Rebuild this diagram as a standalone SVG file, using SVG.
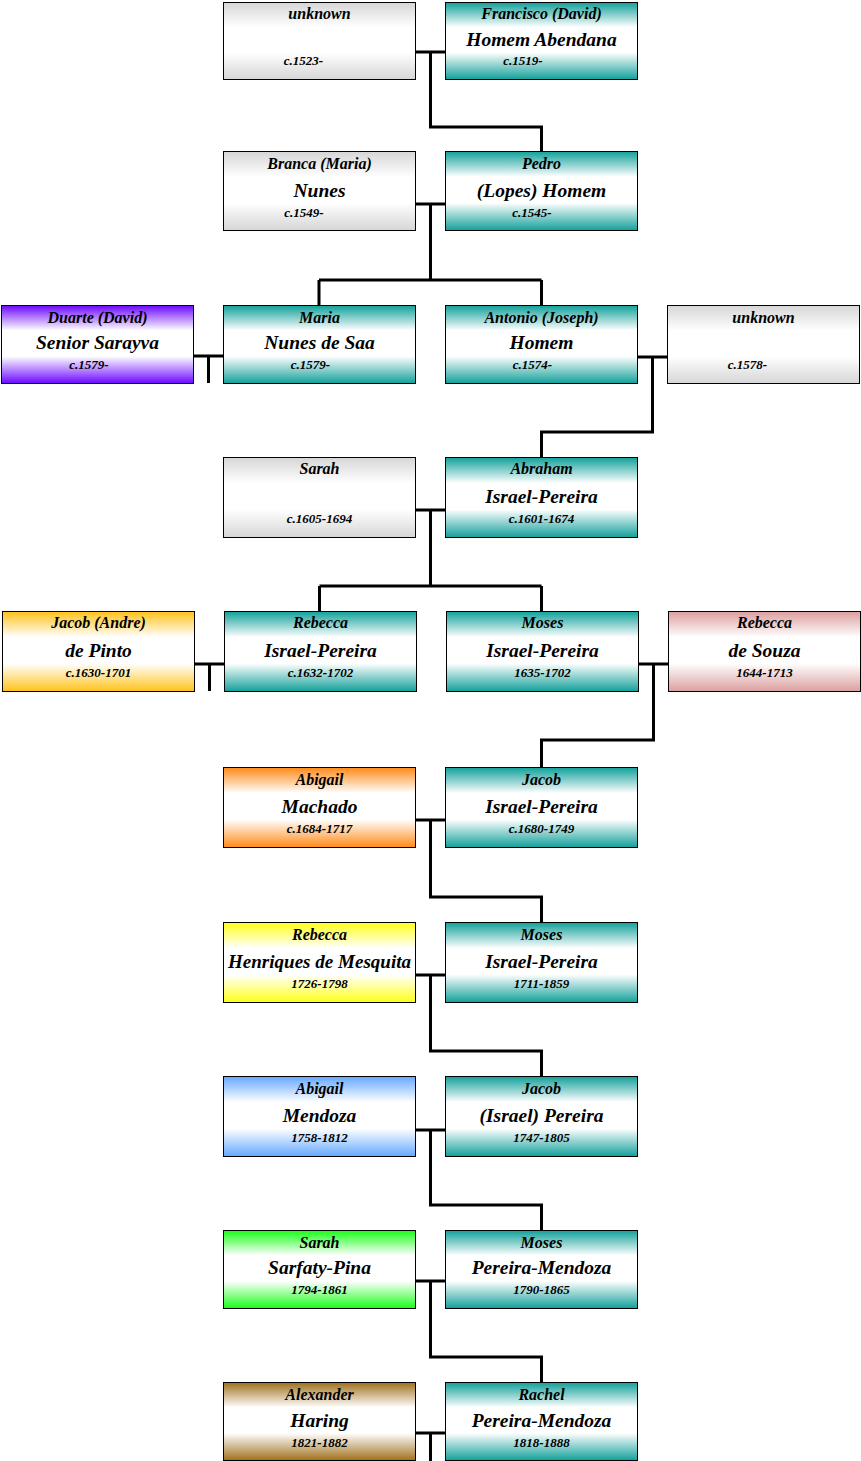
<svg xmlns="http://www.w3.org/2000/svg" width="861" height="1461" viewBox="0 0 861 1461">
<defs>
<linearGradient id="gGray" x1="0" y1="0" x2="0" y2="1"><stop offset="0" stop-color="#d6d6d6"/><stop offset="0.32" stop-color="#fff"/><stop offset="0.65" stop-color="#fff"/><stop offset="1" stop-color="#d6d6d6"/></linearGradient>
<linearGradient id="gTeal" x1="0" y1="0" x2="0" y2="1"><stop offset="0" stop-color="#12a09a"/><stop offset="0.32" stop-color="#fff"/><stop offset="0.65" stop-color="#fff"/><stop offset="1" stop-color="#12a09a"/></linearGradient>
<linearGradient id="gPurple" x1="0" y1="0" x2="0" y2="1"><stop offset="0" stop-color="#6c08ff"/><stop offset="0.32" stop-color="#fff"/><stop offset="0.65" stop-color="#fff"/><stop offset="1" stop-color="#6c08ff"/></linearGradient>
<linearGradient id="gGold" x1="0" y1="0" x2="0" y2="1"><stop offset="0" stop-color="#ffc21a"/><stop offset="0.32" stop-color="#fff"/><stop offset="0.65" stop-color="#fff"/><stop offset="1" stop-color="#ffc21a"/></linearGradient>
<linearGradient id="gPink" x1="0" y1="0" x2="0" y2="1"><stop offset="0" stop-color="#dc9e9e"/><stop offset="0.32" stop-color="#fff"/><stop offset="0.65" stop-color="#fff"/><stop offset="1" stop-color="#dc9e9e"/></linearGradient>
<linearGradient id="gOrange" x1="0" y1="0" x2="0" y2="1"><stop offset="0" stop-color="#ff8a18"/><stop offset="0.32" stop-color="#fff"/><stop offset="0.65" stop-color="#fff"/><stop offset="1" stop-color="#ff8a18"/></linearGradient>
<linearGradient id="gYellow" x1="0" y1="0" x2="0" y2="1"><stop offset="0" stop-color="#ffff18"/><stop offset="0.32" stop-color="#fff"/><stop offset="0.65" stop-color="#fff"/><stop offset="1" stop-color="#ffff18"/></linearGradient>
<linearGradient id="gBlue" x1="0" y1="0" x2="0" y2="1"><stop offset="0" stop-color="#64a8ff"/><stop offset="0.32" stop-color="#fff"/><stop offset="0.65" stop-color="#fff"/><stop offset="1" stop-color="#64a8ff"/></linearGradient>
<linearGradient id="gGreen" x1="0" y1="0" x2="0" y2="1"><stop offset="0" stop-color="#18ff18"/><stop offset="0.32" stop-color="#fff"/><stop offset="0.65" stop-color="#fff"/><stop offset="1" stop-color="#18ff18"/></linearGradient>
<linearGradient id="gBrown" x1="0" y1="0" x2="0" y2="1"><stop offset="0" stop-color="#a0701c"/><stop offset="0.32" stop-color="#fff"/><stop offset="0.65" stop-color="#fff"/><stop offset="1" stop-color="#a0701c"/></linearGradient>
</defs>
<style>
rect.box{stroke:#000;stroke-width:1}
text{font-family:"Liberation Serif","DejaVu Serif",serif;font-weight:bold;font-style:italic;fill:#000;text-anchor:middle}
.t{font-size:16px}
.m{font-size:19.5px}
.d{font-size:13px}
#connectors path{fill:none;stroke:#000;stroke-width:3}
</style>
<g id="connectors">
<path d="M415 52H445M430.5 52V127H541.5V152"/>
<path d="M415 204H445M430.5 204V280M319 280H541.5M319 280V305M541.5 280V305"/>
<path d="M193 356H223M208.5 356V383"/>
<path d="M637 357H667M652.5 357V432H541.5V457"/>
<path d="M415 510H445M430.5 510V586M319.5 586H541.5M319.5 586V611M541.5 586V611"/>
<path d="M194 664H224M209.5 664V691"/>
<path d="M638 664H668M653.5 664V740H541.5V767"/>
<path d="M415 820H445M430.5 820V897H541.5V922"/>
<path d="M415 975H445M430.5 975V1051H541.5V1076"/>
<path d="M415 1130H445M430.5 1130V1205H541.5V1230"/>
<path d="M415 1281H445M430.5 1281V1357H541.5V1382"/>
<path d="M415 1433H445M430.5 1433V1461"/>
</g>
<g id="n_unknown1"><rect class="box" x="223.5" y="2.5" width="192" height="77" fill="url(#gGray)"/><text class="t" x="319.5" y="19">unknown</text><text class="d" x="303.5" y="65">c.1523-</text></g>
<g id="n_francisco"><rect class="box" x="445.5" y="2.5" width="192" height="77" fill="url(#gTeal)"/><text class="t" x="541.5" y="19">Francisco (David)</text><text class="m" x="541.5" y="46">Homem Abendana</text><text class="d" x="523" y="65">c.1519-</text></g>
<g id="n_branca"><rect class="box" x="223.5" y="151.5" width="192" height="79" fill="url(#gGray)"/><text class="t" x="319.5" y="169">Branca (Maria)</text><text class="m" x="319.5" y="197">Nunes</text><text class="d" x="304" y="217">c.1549-</text></g>
<g id="n_pedro"><rect class="box" x="445.5" y="151.5" width="192" height="79" fill="url(#gTeal)"/><text class="t" x="541.5" y="169">Pedro</text><text class="m" x="541.5" y="197">(Lopes) Homem</text><text class="d" x="532" y="217">c.1545-</text></g>
<g id="n_duarte"><rect class="box" x="1.5" y="305.5" width="192" height="78" fill="url(#gPurple)"/><text class="t" x="97.5" y="323">Duarte (David)</text><text class="m" x="97.5" y="349">Senior Sarayva</text><text class="d" x="89" y="369">c.1579-</text></g>
<g id="n_maria"><rect class="box" x="223.5" y="305.5" width="192" height="78" fill="url(#gTeal)"/><text class="t" x="319.5" y="323">Maria</text><text class="m" x="319.5" y="349">Nunes de Saa</text><text class="d" x="310.5" y="369">c.1579-</text></g>
<g id="n_antonio"><rect class="box" x="445.5" y="305.5" width="192" height="78" fill="url(#gTeal)"/><text class="t" x="541.5" y="323">Antonio (Joseph)</text><text class="m" x="541.5" y="349">Homem</text><text class="d" x="532.5" y="369">c.1574-</text></g>
<g id="n_unknown2"><rect class="box" x="667.5" y="305.5" width="192" height="78" fill="url(#gGray)"/><text class="t" x="763.5" y="323">unknown</text><text class="d" x="747.5" y="369">c.1578-</text></g>
<g id="n_sarah1"><rect class="box" x="223.5" y="457.5" width="192" height="80" fill="url(#gGray)"/><text class="t" x="319.5" y="474">Sarah</text><text class="d" x="319.5" y="523">c.1605-1694</text></g>
<g id="n_abraham"><rect class="box" x="445.5" y="457.5" width="192" height="80" fill="url(#gTeal)"/><text class="t" x="541.5" y="474">Abraham</text><text class="m" x="541.5" y="503">Israel-Pereira</text><text class="d" x="541.5" y="523">c.1601-1674</text></g>
<g id="n_jacob_andre"><rect class="box" x="2.5" y="611.5" width="192" height="80" fill="url(#gGold)"/><text class="t" x="98.5" y="628">Jacob (Andre)</text><text class="m" x="98.5" y="657">de Pinto</text><text class="d" x="98.5" y="677">c.1630-1701</text></g>
<g id="n_rebecca_ip"><rect class="box" x="224.5" y="611.5" width="192" height="80" fill="url(#gTeal)"/><text class="t" x="320.5" y="628">Rebecca</text><text class="m" x="320.5" y="657">Israel-Pereira</text><text class="d" x="320.5" y="677">c.1632-1702</text></g>
<g id="n_moses1"><rect class="box" x="446.5" y="611.5" width="192" height="80" fill="url(#gTeal)"/><text class="t" x="542.5" y="628">Moses</text><text class="m" x="542.5" y="657">Israel-Pereira</text><text class="d" x="542.5" y="677">1635-1702</text></g>
<g id="n_rebecca_souza"><rect class="box" x="668.5" y="611.5" width="192" height="80" fill="url(#gPink)"/><text class="t" x="764.5" y="628">Rebecca</text><text class="m" x="764.5" y="657">de Souza</text><text class="d" x="764.5" y="677">1644-1713</text></g>
<g id="n_abigail_machado"><rect class="box" x="223.5" y="767.5" width="192" height="80" fill="url(#gOrange)"/><text class="t" x="319.5" y="785">Abigail</text><text class="m" x="319.5" y="813">Machado</text><text class="d" x="319.5" y="833">c.1684-1717</text></g>
<g id="n_jacob1"><rect class="box" x="445.5" y="767.5" width="192" height="80" fill="url(#gTeal)"/><text class="t" x="541.5" y="785">Jacob</text><text class="m" x="541.5" y="813">Israel-Pereira</text><text class="d" x="541.5" y="833">c.1680-1749</text></g>
<g id="n_rebecca_hm"><rect class="box" x="223.5" y="922.5" width="192" height="80" fill="url(#gYellow)"/><text class="t" x="319.5" y="940">Rebecca</text><text class="m" x="319.5" y="968" textLength="183" lengthAdjust="spacingAndGlyphs">Henriques de Mesquita</text><text class="d" x="319.5" y="988">1726-1798</text></g>
<g id="n_moses2"><rect class="box" x="445.5" y="922.5" width="192" height="80" fill="url(#gTeal)"/><text class="t" x="541.5" y="940">Moses</text><text class="m" x="541.5" y="968">Israel-Pereira</text><text class="d" x="541.5" y="988">1711-1859</text></g>
<g id="n_abigail_mendoza"><rect class="box" x="223.5" y="1076.5" width="192" height="80" fill="url(#gBlue)"/><text class="t" x="319.5" y="1094">Abigail</text><text class="m" x="319.5" y="1122">Mendoza</text><text class="d" x="319.5" y="1142">1758-1812</text></g>
<g id="n_jacob2"><rect class="box" x="445.5" y="1076.5" width="192" height="80" fill="url(#gTeal)"/><text class="t" x="541.5" y="1094">Jacob</text><text class="m" x="541.5" y="1122">(Israel) Pereira</text><text class="d" x="541.5" y="1142">1747-1805</text></g>
<g id="n_sarah2"><rect class="box" x="223.5" y="1230.5" width="192" height="78" fill="url(#gGreen)"/><text class="t" x="319.5" y="1248">Sarah</text><text class="m" x="319.5" y="1274">Sarfaty-Pina</text><text class="d" x="319.5" y="1294">1794-1861</text></g>
<g id="n_moses3"><rect class="box" x="445.5" y="1230.5" width="192" height="78" fill="url(#gTeal)"/><text class="t" x="541.5" y="1248">Moses</text><text class="m" x="541.5" y="1274">Pereira-Mendoza</text><text class="d" x="541.5" y="1294">1790-1865</text></g>
<g id="n_alexander"><rect class="box" x="223.5" y="1382.5" width="192" height="78" fill="url(#gBrown)"/><text class="t" x="319.5" y="1400">Alexander</text><text class="m" x="319.5" y="1427">Haring</text><text class="d" x="319.5" y="1447">1821-1882</text></g>
<g id="n_rachel"><rect class="box" x="445.5" y="1382.5" width="192" height="78" fill="url(#gTeal)"/><text class="t" x="541.5" y="1400">Rachel</text><text class="m" x="541.5" y="1427">Pereira-Mendoza</text><text class="d" x="541.5" y="1447">1818-1888</text></g>
</svg>
